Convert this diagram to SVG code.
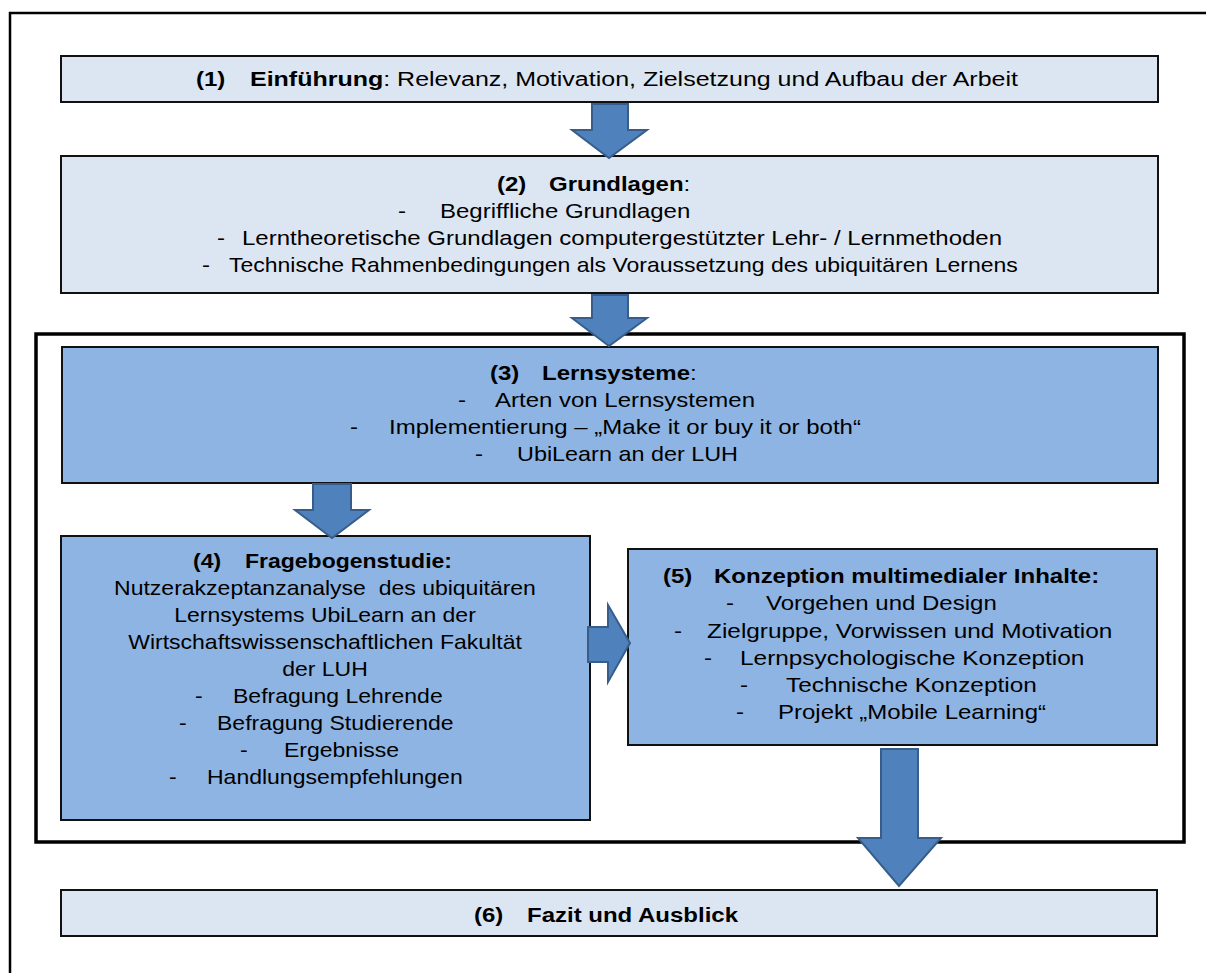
<svg xmlns="http://www.w3.org/2000/svg" width="1206" height="973" viewBox="0 0 1206 973">
<style>
text{font-family:"Liberation Sans",Arial,sans-serif;font-size:20px;fill:#000}
.b{font-weight:bold}
.m{text-anchor:middle}
.lt{fill:#DCE6F2;stroke:#111;stroke-width:2}
.dk{fill:#8EB4E3;stroke:#111;stroke-width:2}
.ar{fill:#4F81BD;stroke:#385D8A;stroke-width:2;stroke-linejoin:miter}
</style>
<rect x="0" y="0" width="1206" height="973" fill="#fff"/>
<polyline points="10,980 10,13 1215,13" fill="none" stroke="#000" stroke-width="2.5"/>
<rect x="36" y="334" width="1148" height="508" fill="none" stroke="#000" stroke-width="3.5"/>

<g id="n1">
<rect class="lt" x="61" y="56" width="1097" height="46"/>
<text class="b" transform="translate(196,86) scale(1.2,1)">(1)</text>
<text transform="translate(250,86) scale(1.25,1)"><tspan class="b">Einführung</tspan>: Relevanz, Motivation, Zielsetzung und Aufbau der Arbeit</text>
</g>

<g id="n2">
<rect class="lt" x="61" y="156" width="1097" height="137"/>
<text class="b" transform="translate(497,191) scale(1.2,1)">(2)</text>
<text transform="translate(549,191) scale(1.2,1)"><tspan class="b">Grundlagen</tspan>:</text>
<text transform="translate(398,218) scale(1.2,1)">-</text>
<text transform="translate(440,218) scale(1.2,1)">Begriffliche Grundlagen</text>
<text transform="translate(217,245) scale(1.2,1)">-</text>
<text transform="translate(242,245) scale(1.2,1)">Lerntheoretische Grundlagen computergestützter Lehr- / Lernmethoden</text>
<text transform="translate(202,272) scale(1.2,1)">-</text>
<text transform="translate(229,272) scale(1.15,1)">Technische Rahmenbedingungen als Voraussetzung des ubiquitären Lernens</text>
</g>

<g id="n3">
<rect class="dk" x="62" y="347" width="1096" height="136"/>
<text class="b" transform="translate(490,380) scale(1.2,1)">(3)</text>
<text transform="translate(542,380) scale(1.2,1)"><tspan class="b">Lernsysteme</tspan>:</text>
<text transform="translate(458,407) scale(1.2,1)">-</text>
<text transform="translate(495,407) scale(1.2,1)">Arten von Lernsystemen</text>
<text transform="translate(350,434) scale(1.2,1)">-</text>
<text transform="translate(389,434) scale(1.2,1)">Implementierung – „Make it or buy it or both“</text>
<text transform="translate(475,461) scale(1.2,1)">-</text>
<text transform="translate(517,461) scale(1.17,1)">UbiLearn an der LUH</text>
</g>

<g id="n4">
<rect class="dk" x="61" y="536" width="529" height="284"/>
<text class="b" transform="translate(193,568) scale(1.15,1)">(4)</text>
<text class="b" transform="translate(245,568) scale(1.15,1)">Fragebogenstudie:</text>
<text class="m" transform="translate(325,595) scale(1.15,1)" xml:space="preserve">Nutzerakzeptanzanalyse  des ubiquitären</text>
<text class="m" transform="translate(325,622) scale(1.15,1)">Lernsystems UbiLearn an der</text>
<text class="m" transform="translate(325,649) scale(1.15,1)">Wirtschaftswissenschaftlichen Fakultät</text>
<text class="m" transform="translate(325,676) scale(1.15,1)">der LUH</text>
<text transform="translate(195,703) scale(1.15,1)">-</text>
<text transform="translate(233,703) scale(1.15,1)">Befragung Lehrende</text>
<text transform="translate(179,730) scale(1.15,1)">-</text>
<text transform="translate(217,730) scale(1.15,1)">Befragung Studierende</text>
<text transform="translate(240,757) scale(1.15,1)">-</text>
<text transform="translate(284,757) scale(1.15,1)">Ergebnisse</text>
<text transform="translate(169,784) scale(1.15,1)">-</text>
<text transform="translate(207,784) scale(1.15,1)">Handlungsempfehlungen</text>
</g>

<g id="n5">
<rect class="dk" x="628" y="549" width="529" height="196"/>
<text class="b" transform="translate(663,583) scale(1.2,1)">(5)</text>
<text class="b" transform="translate(714,583) scale(1.2,1)">Konzeption multimedialer Inhalte:</text>
<text transform="translate(726,610) scale(1.2,1)">-</text>
<text transform="translate(766,610) scale(1.2,1)">Vorgehen und Design</text>
<text transform="translate(674,638) scale(1.2,1)">-</text>
<text transform="translate(707,638) scale(1.22,1)">Zielgruppe, Vorwissen und Motivation</text>
<text transform="translate(704,665) scale(1.2,1)">-</text>
<text transform="translate(740,665) scale(1.22,1)">Lernpsychologische Konzeption</text>
<text transform="translate(740,692) scale(1.2,1)">-</text>
<text transform="translate(786,692) scale(1.22,1)">Technische Konzeption</text>
<text transform="translate(736,719) scale(1.2,1)">-</text>
<text transform="translate(778,719) scale(1.2,1)">Projekt „Mobile Learning“</text>
</g>

<g id="n6">
<rect class="lt" x="61" y="890" width="1096" height="46"/>
<text class="b" transform="translate(474,922) scale(1.2,1)">(6)</text>
<text class="b" transform="translate(527,922) scale(1.2,1)">Fazit und Ausblick</text>
</g>

<g id="connectors">
<polygon class="ar" points="592,104 628,104 628,130 647,130 609,158 572,130 592,130"/>
<polygon class="ar" points="592,295 628,295 628,318 647,318 609,346 572,318 592,318"/>
<polygon class="ar" points="313,484 351,484 351,510 369,510 332,538 295,510 313,510"/>
<polygon class="ar" points="588,627 608,627 608,605 630,643 608,682 608,662 588,662"/>
<polygon class="ar" points="881,749 918,749 918,838 941,838 899,886 858,838 881,838"/>
</g>
</svg>
